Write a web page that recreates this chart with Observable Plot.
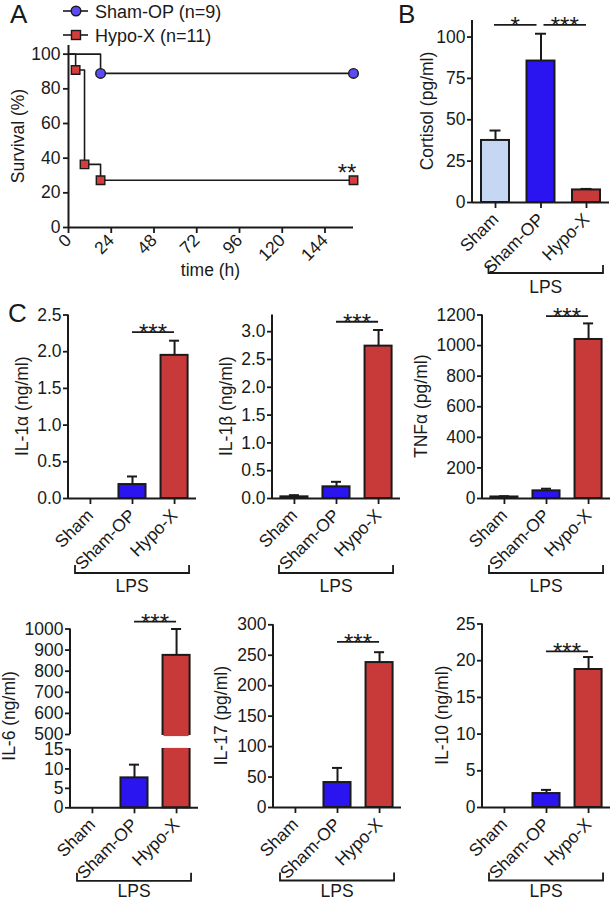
<!DOCTYPE html>
<html>
<head>
<meta charset="utf-8">
<script src="https://cdn.jsdelivr.net/npm/d3@7"></script>
<script src="https://cdn.jsdelivr.net/npm/@observablehq/plot@0.6"></script>
<style>
  body { margin: 0; background: #fff; }
  #fig { position: relative; width: 611px; height: 900px; overflow: hidden; background: #fff; }
  #fig svg { position: absolute; overflow: visible; }
  #fig g[aria-label$="-axis tick"] { stroke-width: 1.8px; }
</style>
</head>
<body>
<div id="fig"></div>
<script>
// ---------------- DATA ----------------
const groups = ["Sham", "Sham-OP", "Hypo-X"];
const barColors = ["#c6d7f3", "#2a14ef", "#c8393a"];

// Panel A: Kaplan-Meier survival
const survivalSeries = ["Sham-OP", "Hypo-X"];
const survivalLegend = ["Sham-OP (n=9)", "Hypo-X (n=11)"];
const survivalColors = ["#5a4cf0", "#d63c3c"];
const shamOpTime = [0, 18, 160];
const shamOpSurvival = [100, 88.9, 88.9];
const hypoXTime = [0, 4, 9, 18, 160];
const hypoXSurvival = [100, 90.9, 36.4, 27.3, 27.3];
const survivalTicks = [0, 20, 40, 60, 80, 100];
const timeTicks = [0, 24, 48, 72, 96, 120, 144];

// Panel B: cortisol
const cortisolMean = [37.5, 85.5, 7.6];
const cortisolSem = [6.0, 16.5, 0.6];
const cortisolTicks = [0, 25, 50, 75, 100];

// Panel C: cytokines
const il1aMean = [0, 0.19, 1.95];
const il1aSem = [0, 0.11, 0.20];
const il1aTicks = [0, 0.5, 1.0, 1.5, 2.0, 2.5];

const il1bMean = [0.03, 0.21, 2.74];
const il1bSem = [0.03, 0.09, 0.29];
const il1bTicks = [0, 0.5, 1.0, 1.5, 2.0, 2.5, 3.0];

const tnfMean = [10, 50, 1040];
const tnfSem = [5, 14, 105];
const tnfTicks = [0, 200, 400, 600, 800, 1000, 1200];

const il6Mean = [0, 7.7, 875];
const il6Sem = [0, 3.4, 125];
const il6UpperTicks = [500, 600, 700, 800, 900, 1000];
const il6LowerTicks = [0, 5, 10, 15];

const il17Mean = [0, 41, 238];
const il17Sem = [0, 24, 17];
const il17Ticks = [0, 50, 100, 150, 200, 250, 300];

const il10Mean = [0, 1.9, 18.8];
const il10Sem = [0, 0.5, 1.7];
const il10Ticks = [0, 5, 10, 15, 20, 25];

// ---------------- HELPERS ----------------
const FONT = '"Liberation Sans", Arial, Helvetica, sans-serif';
const INK = "#1a1a1a";
const FS = 17.5;
const fig = document.getElementById("fig");

function addSvg(chart, L, T) {
  chart.style.left = L + "px";
  chart.style.top = T + "px";
  fig.appendChild(chart);
  return chart;
}
function txt(sel, x, y, s, opts = {}) {
  const t = sel.append("text").attr("x", x).attr("y", y).text(s)
    .attr("font-family", FONT).attr("font-size", opts.size || FS)
    .attr("fill", INK).attr("text-anchor", opts.anchor || "start");
  if (opts.rotate) t.attr("transform", `rotate(${opts.rotate},${x},${y})`);
  return t;
}
function margins(o) {
  return {
    width: o.W, height: o.H,
    marginLeft: o.fl - o.L, marginRight: o.L + o.W - o.fr,
    marginTop: o.ft - o.T, marginBottom: o.T + o.H - o.fb
  };
}
const baseStyle = {fontFamily: FONT, fontSize: FS + "px", color: INK, background: "transparent", overflow: "visible"};

// ---------------- PANEL A ----------------
const survRows = [
  ...shamOpTime.map((t, i) => ({group: "Sham-OP", t, s: shamOpSurvival[i], i})),
  ...hypoXTime.map((t, i) => ({group: "Hypo-X", t, s: hypoXSurvival[i], i}))
];
const PA = {L: 0, T: 0, W: 400, H: 290, fl: 68, fr: 353, ft: 45, fb: 227};
const chartA = Plot.plot({
  ...margins(PA),
  style: baseStyle,
  x: {domain: [0, 160], ticks: timeTicks, tickRotate: -45, tickSize: 6, tickPadding: 4, label: null},
  y: {domain: [0, 105], ticks: survivalTicks, tickSize: 5, tickPadding: 3, label: null},
  color: {domain: survivalSeries, range: survivalColors},
  symbol: {domain: survivalSeries, range: ["circle", "square"]},
  marks: [
    Plot.ruleY([0], {stroke: INK, strokeWidth: 2}),
    Plot.ruleX([0], {stroke: INK, strokeWidth: 2}),
    Plot.line(survRows, {x: "t", y: "s", z: "group", curve: "step-after", stroke: INK, strokeWidth: 1.6}),
    Plot.dot(survRows.filter(d => d.i > 0), {x: "t", y: "s", fill: "group", symbol: "group", stroke: INK, strokeWidth: 1.4, r: 4.8})
  ]
});
addSvg(chartA, PA.L, PA.T);
{
  const svg = d3.select(chartA);
  const sx = chartA.scale("x"), sy = chartA.scale("y"), sc = chartA.scale("color");
  // legend
  survivalSeries.forEach((k, i) => {
    const y = 11 + i * 24;
    svg.append("line").attr("x1", 63).attr("x2", 88).attr("y1", y).attr("y2", y).attr("stroke", INK).attr("stroke-width", 1.6);
    if (i === 0) svg.append("circle").attr("cx", 76).attr("cy", y).attr("r", 4.8).attr("fill", sc.apply(k)).attr("stroke", INK).attr("stroke-width", 1.4);
    else svg.append("rect").attr("x", 71.5).attr("y", y - 4.5).attr("width", 9).attr("height", 9).attr("fill", sc.apply(k)).attr("stroke", INK).attr("stroke-width", 1.4);
    txt(svg, 95, y + 7, survivalLegend[i], {size: 18});
  });
  // significance for Hypo-X final point
  const last = hypoXTime.length - 1;
  txt(svg, sx.apply(hypoXTime[last]) - 6, sy.apply(hypoXSurvival[last]) + 1, "**", {anchor: "middle", size: 24});
  // axis titles
  txt(svg, PA.fl - 44, (PA.ft + PA.fb) / 2, "Survival (%)", {anchor: "middle", rotate: -90});
  txt(svg, (PA.fl + PA.fr) / 2, PA.fb + 49, "time (h)", {anchor: "middle"});
  txt(svg, 10, 23, "A", {size: 26});
}

// ---------------- BAR PANELS ----------------
function barPanel(o) {
  const rows = groups.map((g, i) => ({g, m: o.mean[i], e: o.sem[i]}));
  const [yMin, yMax] = o.domain;
  const bars = rows.filter(r => r.m > yMin);
  const errs = rows.filter(r => r.e > 0 && r.m > yMin && r.m < yMax);
  const breaks = o.broken ? rows.filter(r => o.broken === "upper" ? r.m > yMin : r.m > yMax) : [];
  const marks = [
    Plot.barY(bars, {x: "g", y1: () => yMin, y2: "m", fill: "g", stroke: INK, strokeWidth: 2}),
    o.broken ? Plot.tickY(breaks, {x: "g", y: () => (o.broken === "upper" ? yMin : yMax), stroke: "g", strokeWidth: 3.2, inset: 1}) : null,
    Plot.ruleX(errs, {x: "g", y1: "m", y2: d => d.m + d.e, stroke: INK, strokeWidth: 2}),
    Plot.tickY(errs, {x: "g", y: d => d.m + d.e, stroke: INK, strokeWidth: 2, inset: 8.5}),
    o.hideX ? null : Plot.ruleY([yMin], {stroke: INK, strokeWidth: 2})
  ].filter(Boolean);
  const chart = Plot.plot({
    ...margins(o),
    style: baseStyle,
    x: {type: "band", domain: groups, paddingInner: o.pI ?? 0.357, paddingOuter: o.pO ?? 0.2, round: false,
        axis: o.hideX ? null : "bottom", tickRotate: -45, tickSize: 6, tickPadding: 8, label: null},
    y: {domain: o.domain, ticks: o.ticks, tickFormat: o.fmt ? d3.format(o.fmt) : d3.format("d"),
        tickSize: 5, tickPadding: 2, label: null, clamp: !!o.clamp},
    color: {domain: groups, range: barColors},
    marks
  });
  addSvg(chart, o.L, o.T);
  annotate(chart, o);
  return chart;
}

function annotate(chart, o) {
  const svg = d3.select(chart);
  const sx = chart.scale("x"), sy = chart.scale("y");
  const cx = g => sx.apply(g) + sx.bandwidth / 2;
  const left = o.fl - o.L;
  svg.append("line").attr("x1", left).attr("x2", left)
    .attr("y1", sy.apply(o.domain[1])).attr("y2", sy.apply(o.domain[0]) + (o.hideX ? 0 : 1))
    .attr("stroke", INK).attr("stroke-width", 2);
  (o.sig || []).forEach(s => {
    const x1 = cx(s.from) + (s.insetL || 0), x2 = cx(s.to) - (s.insetR || 0), y = sy.apply(s.y);
    svg.append("line").attr("x1", x1).attr("x2", x2).attr("y1", y).attr("y2", y).attr("stroke", INK).attr("stroke-width", 1.8);
    txt(svg, (x1 + x2) / 2, y + 9, s.text, {anchor: "middle", size: 24});
  });
  if (o.lps) {
    const yb = sy.apply(o.domain[0]) + o.lps.dy;
    const xa = cx("Sham-OP") - o.lps.left, xb = cx("Hypo-X") + o.lps.right;
    svg.append("path").attr("d", `M${xa},${yb - 8}V${yb}H${xb}V${yb - 8}`)
      .attr("fill", "none").attr("stroke", INK).attr("stroke-width", 1.8);
    txt(svg, (xa + xb) / 2, yb + o.lps.textDy, "LPS", {anchor: "middle"});
  }
  if (o.label) {
    const ly = o.labelY != null ? o.labelY - o.T : (sy.apply(o.domain[0]) + sy.apply(o.domain[1])) / 2;
    txt(svg, left - o.labelOff, ly, o.label, {anchor: "middle", rotate: -90});
  }
  if (o.letter) txt(svg, o.letter.x - o.L, o.letter.y - o.T, o.letter.t, {size: 26});
}

// Panel B
barPanel({L: 400, T: 0, W: 211, H: 300, fl: 472, fr: 609, ft: 20, fb: 202,
  domain: [0, 110], ticks: cortisolTicks, mean: cortisolMean, sem: cortisolSem, pI: 0.385, pO: 0.198,
  sig: [{from: "Sham", to: "Sham-OP", y: 107, text: "*", insetL: -1, insetR: 4},
        {from: "Sham-OP", to: "Hypo-X", y: 107, text: "***", insetL: 3}],
  lps: {dy: 71, left: 52, right: 17, textDy: 20}, label: "Cortisol (pg/ml)", labelOff: 39,
  letter: {x: 398, y: 23, t: "B"}});

// Panel C, row 1
const row1 = {T: 295, H: 300, ft: 314.5, fb: 498};
const lps1 = {dy: 75, left: 57, right: 15, textDy: 19};
barPanel({...row1, L: 0, W: 200, fl: 68, fr: 196, domain: [0, 2.5], ticks: il1aTicks, fmt: ".1f",
  mean: il1aMean, sem: il1aSem, sig: [{from: "Sham-OP", to: "Hypo-X", y: 2.26, text: "***"}],
  lps: lps1, label: "IL-1α (ng/ml)", labelOff: 40, letter: {x: 8, y: 322, t: "C"}});
barPanel({...row1, L: 200, W: 205, fl: 272, fr: 400, domain: [0, 3.3], ticks: il1bTicks, fmt: ".1f",
  mean: il1bMean, sem: il1bSem, sig: [{from: "Sham-OP", to: "Hypo-X", y: 3.17, text: "***"}],
  lps: lps1, label: "IL-1β (ng/ml)", labelOff: 40});
barPanel({...row1, L: 405, W: 206, fl: 482, fr: 610, domain: [0, 1200], ticks: tnfTicks, fmt: "d",
  mean: tnfMean, sem: tnfSem, sig: [{from: "Sham-OP", to: "Hypo-X", y: 1190, text: "***"}],
  lps: lps1, label: "TNFα (pg/ml)", labelOff: 55});

// Panel C, row 2
const lps2 = {dy: 73.5, left: 57, right: 15, textDy: 16};
// IL-6 broken axis: upper segment
barPanel({L: 0, T: 600, W: 200, H: 140, fl: 70, fr: 198, ft: 628.5, fb: 734,
  domain: [500, 1000], ticks: il6UpperTicks, fmt: "d", hideX: true, broken: "upper",
  mean: il6Mean, sem: il6Sem, sig: [{from: "Sham-OP", to: "Hypo-X", y: 1033, text: "***"}]});
// IL-6 lower segment
barPanel({L: 0, T: 740, W: 200, H: 160, fl: 70, fr: 198, ft: 749, fb: 807.3,
  domain: [0, 15], ticks: il6LowerTicks, fmt: "d", clamp: true, broken: "lower",
  mean: il6Mean, sem: il6Sem, lps: lps2, label: "IL-6 (ng/ml)", labelOff: 55, labelY: 716});
barPanel({L: 200, T: 600, W: 205, H: 300, fl: 273, fr: 401, ft: 624.3, fb: 807,
  domain: [0, 300], ticks: il17Ticks, fmt: "d", mean: il17Mean, sem: il17Sem,
  sig: [{from: "Sham-OP", to: "Hypo-X", y: 271, text: "***"}], lps: lps2, label: "IL-17 (pg/ml)", labelOff: 46});
barPanel({L: 405, T: 600, W: 206, H: 300, fl: 482, fr: 610, ft: 623.5, fb: 807,
  domain: [0, 25], ticks: il10Ticks, fmt: "d", mean: il10Mean, sem: il10Sem,
  sig: [{from: "Sham-OP", to: "Hypo-X", y: 21.2, text: "***"}], lps: lps2, label: "IL-10 (ng/ml)", labelOff: 34});
</script>
</body>
</html>
